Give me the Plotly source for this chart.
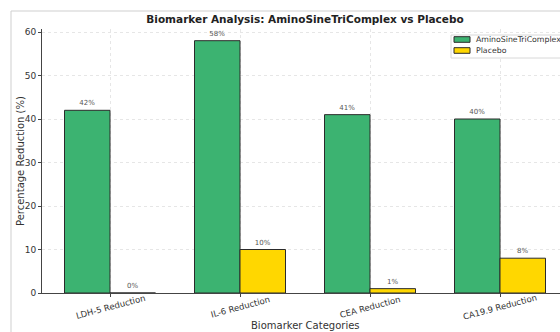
import plotly.graph_objects as go

categories = ["LDH-5 Reduction", "IL-6 Reduction", "CEA Reduction", "CA19.9 Reduction"]
treatment = [42, 58, 41, 40]
placebo = [0, 10, 1, 8]
series_names = ["AminoSineTriComplex", "Placebo"]
y_ticks = [0, 10, 20, 30, 40, 50, 60]

W, H = 560, 332
ML, MR, MT, MB = 42, 0, 29, 39
PW, PH = W - ML - MR, H - MT - MB

FONT = "DejaVu Sans"
GREEN = "#3CB371"
GOLD = "#FFD700"
EDGE = "#2b2b2b"
TXT = "#333333"
COLORS = [GREEN, GOLD]

x_idx = list(range(len(categories)))

fig = go.Figure()
for name, vals, col in zip(series_names, [treatment, placebo], COLORS):
    fig.add_trace(go.Bar(
        x=x_idx, y=vals, name=name,
        marker=dict(color=col, line=dict(color=EDGE, width=1)),
        text=[f"{v}%" for v in vals], textposition="outside",
        textfont=dict(family=FONT, size=7, color="#555555"),
        cliponaxis=False, showlegend=False,
    ))


def px_to_x(px):
    return (px - ML) / PW


def py_to_y(py):
    return (H - MB - py) / PH


# outer frame of the figure
fig.add_shape(type="rect", xref="paper", yref="paper",
              x0=px_to_x(11), x1=px_to_x(600), y0=py_to_y(360), y1=py_to_y(11),
              line=dict(color="#cfcfcf", width=1), fillcolor="rgba(0,0,0,0)", layer="below")

# legend box (runs past the right edge of the figure)
fig.add_shape(type="rect", xref="paper", yref="paper",
              x0=px_to_x(451), x1=px_to_x(620), y0=py_to_y(58), y1=py_to_y(35),
              line=dict(color="#d8d8d8", width=1), fillcolor="rgba(255,255,255,0.9)", layer="above")
for i, (name, col) in enumerate(zip(series_names, COLORS)):
    cy = 39.5 + 11 * i
    fig.add_shape(type="rect", xref="paper", yref="paper",
                  x0=px_to_x(454), x1=px_to_x(470), y0=py_to_y(cy + 2.8), y1=py_to_y(cy - 2.8),
                  line=dict(color=EDGE, width=1), fillcolor=col, layer="above")
    fig.add_annotation(xref="paper", yref="paper", x=px_to_x(474), y=py_to_y(cy),
                       xanchor="left", yanchor="middle", text=name, showarrow=False,
                       font=dict(family=FONT, size=7.8, color=TXT))

# category labels, rotated about their centres
for i, cat in zip(x_idx, categories):
    fig.add_annotation(xref="x", yref="paper", x=i, y=py_to_y(307),
                       xanchor="center", yanchor="middle", text=cat, showarrow=False,
                       textangle=-15, font=dict(family=FONT, size=8.5, color=TXT))

# axis titles
fig.add_annotation(xref="paper", yref="paper", x=px_to_x(305), y=py_to_y(325.5),
                   xanchor="center", yanchor="middle", text="Biomarker Categories",
                   showarrow=False, font=dict(family=FONT, size=10, color=TXT))
fig.add_annotation(xref="paper", yref="paper", x=px_to_x(20), y=py_to_y(161),
                   xanchor="center", yanchor="middle", text="Percentage Reduction (%)",
                   textangle=-90, showarrow=False, font=dict(family=FONT, size=10, color=TXT))

fig.update_layout(
    width=W, height=H,
    margin=dict(l=ML, r=MR, t=MT, b=MB, pad=0),
    paper_bgcolor="white", plot_bgcolor="white",
    barmode="group", bargap=0.3, bargroupgap=0,
    font=dict(family=FONT, size=9, color=TXT),
    title=dict(text="<b>Biomarker Analysis: AminoSineTriComplex vs Placebo</b>",
               x=305 / W, xanchor="center",
               y=1 - 19.5 / H, yanchor="middle",
               font=dict(family=FONT, size=10.5, color="#222222")),
    xaxis=dict(
        tickmode="array", tickvals=x_idx, ticktext=[""] * len(categories),
        range=[(ML - 110) / 130, (W - 110) / 130],
        showgrid=True, gridcolor="#e6e6e6", griddash="dot", gridwidth=1,
        showline=True, linecolor="#444444", linewidth=1,
        ticks="outside", ticklen=3, tickcolor="#444444",
        zeroline=False, automargin=False,
    ),
    yaxis=dict(
        tickmode="array", tickvals=y_ticks,
        range=[0, PH / 4.35],
        tickfont=dict(size=9, color=TXT),
        showgrid=True, gridcolor="#e6e6e6", griddash="dot", gridwidth=1,
        showline=True, linecolor="#444444", linewidth=1,
        ticks="outside", ticklen=3, tickcolor="#444444",
        zeroline=False, automargin=False,
    ),
    showlegend=False,
)

fig.write_html("out.html")
